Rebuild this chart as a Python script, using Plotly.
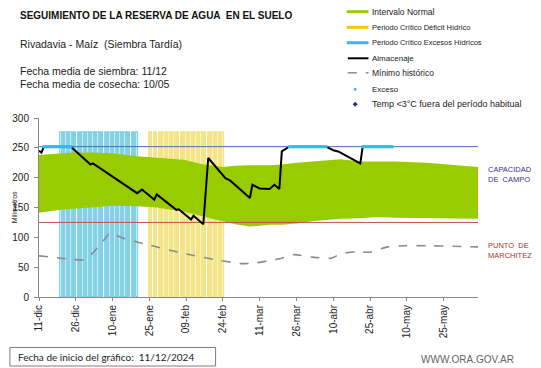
import plotly.graph_objects as go

# ---------------- data ----------------
tick_days = [0, 15, 30, 45, 60, 75, 90, 105, 120, 135, 150, 165]
tick_labels = ["11-dic", "26-dic", "10-ene", "25-ene", "09-feb", "24-feb",
               "11-mar", "26-mar", "10-abr", "25-abr", "10-may", "25-may"]
x_end = 179

band_days = [0, 8, 14, 22, 30, 40, 48, 59, 67, 75, 80, 86, 94, 99, 105, 111, 123, 131, 138, 145, 158, 179]
band_upper = [238, 240, 242, 242, 241, 236, 233, 230, 222, 218, 220, 221, 221, 222, 225, 227, 231, 227, 227, 227, 225, 218]
band_lower = [141, 146, 148, 151, 153, 152, 150, 143, 135, 127, 122, 118, 121, 121, 123, 127, 131, 132, 134, 133, 132, 131]

exceso_period_days = [9, 10, 11, 12, 13, 14, 15, 16, 17, 18, 19, 20, 21, 22, 23, 24, 25, 26, 27, 28,
                      29, 30, 31, 32, 33, 34, 35, 36, 37, 38, 39, 40]
deficit_period_days = [45, 46, 47, 48, 49, 50, 51, 52, 53, 54, 55, 56, 57, 58, 59, 60, 61, 62, 63, 64,
                       65, 66, 67, 68, 69, 70, 71, 72, 73, 74, 75]
period_height = 277

capacidad_campo = 252
punto_marchitez = 125

alm_days = [0, 1, 2, 13, 21, 22, 40, 42, 47, 48, 56, 57, 62, 63, 67, 69, 76, 78, 86, 87, 90, 94, 96, 98,
            99, 101, 102, 117, 118, 120, 122, 131, 132, 144]
alm_vals = [245, 242, 252, 252, 222, 224, 174, 180, 163, 172, 146, 147, 130, 136, 122, 233, 199, 195, 166, 188,
            182, 181, 188, 181, 244, 250, 252, 252, 250, 246, 244, 224, 252, 252]

min_days = [0, 9, 14, 18, 22, 26, 29, 34, 44, 58, 74, 83, 88, 94, 98, 104, 111, 119, 123, 129, 135, 142, 149, 158, 169, 179]
min_vals = [69, 65, 63, 62, 74, 93, 107, 99, 88, 74, 61, 56, 57, 61, 64, 71, 67, 65, 72, 76, 75, 84, 86, 86, 85, 84]

exceso_days = [2, 3, 4, 5, 6, 7, 8, 9, 10, 11, 12, 13,
               102, 103, 104, 105, 106, 107, 108, 109, 110, 111, 112, 113, 114, 115, 116, 117,
               132, 133, 134, 135, 136, 137, 138, 139, 140, 141, 142, 143, 144]
exceso_vals = [252] * len(exceso_days)

# ---------------- colours ----------------
GREEN = "#99cc00"
YELLOW = "#f5c800"
CYAN = "#33bbee"
FONT = "Liberation Sans, Arial, sans-serif"

W, H = 541, 368
L, R, T, B = 33, 478, 118, 297


def xp(px):
    return (px - L) / (R - L)


def yp(py):
    return (B - py) / (B - T)


fig = go.Figure()

# normal interval band
fig.add_trace(go.Scatter(x=band_days, y=band_lower, mode="lines", line=dict(width=0, color=GREEN),
                         hoverinfo="skip", showlegend=False))
fig.add_trace(go.Scatter(x=band_days, y=band_upper, mode="lines", line=dict(width=0, color=GREEN),
                         fill="tonexty", fillcolor=GREEN, showlegend=False))

# critical periods
fig.add_trace(go.Bar(x=exceso_period_days, y=[period_height] * len(exceso_period_days), width=0.55,
                     marker=dict(color="rgba(130,215,235,0.35)",
                                 line=dict(color="rgba(55,180,215,0.9)", width=0.7)),
                     showlegend=False))
fig.add_trace(go.Bar(x=deficit_period_days, y=[period_height] * len(deficit_period_days), width=0.55,
                     marker=dict(color="rgba(248,232,110,0.35)",
                                 line=dict(color="rgba(235,212,70,0.9)", width=0.7)),
                     showlegend=False))

# reference lines
fig.add_trace(go.Scatter(x=[0, x_end], y=[capacidad_campo, capacidad_campo], mode="lines",
                         line=dict(color="#4a6cc0", width=1), showlegend=False))
fig.add_trace(go.Scatter(x=[0, x_end], y=[punto_marchitez, punto_marchitez], mode="lines",
                         line=dict(color="#c0504d", width=1), showlegend=False))

# historical minimum
fig.add_trace(go.Scatter(x=min_days, y=min_vals, mode="lines",
                         line=dict(color="#8c8c8c", width=1.6, dash="dash", shape="spline", smoothing=0.6),
                         showlegend=False))

# storage
fig.add_trace(go.Scatter(x=alm_days, y=alm_vals, mode="lines",
                         line=dict(color="black", width=2), showlegend=False))

# exceso markers
fig.add_trace(go.Scatter(x=exceso_days, y=exceso_vals, mode="markers",
                         marker=dict(color=CYAN, size=3.5, symbol="circle", line=dict(width=0)),
                         showlegend=False))

shapes = []
annotations = []

# ---------- manual legend ----------
lx0, lx1, ltx = 345, 367, 369
rows = [
    (11.7, "bar", GREEN, "Intervalo Normal", 8.5),
    (27.3, "bar", YELLOW, "Periodo Crítico Déficit Hídrico", 7.5),
    (42.7, "bar", CYAN, "Periodo Crítico Excesos Hídricos", 7.5),
    (58.3, "line", "black", "Almacenaje", 8),
    (72.7, "dash", "#8c8c8c", "Mínimo histórico", 8.5),
    (89.3, "dot", CYAN, "Exceso", 8),
    (104.3, "diamond", "#1f2f8f", "Temp <3°C fuera del período habitual", 9),
]
for ry, kind, col, label, fs in rows:
    if kind == "bar":
        shapes.append(dict(type="line", xref="paper", yref="paper", x0=xp(lx0), x1=xp(lx1),
                           y0=yp(ry), y1=yp(ry), line=dict(color=col, width=3)))
    elif kind == "line":
        shapes.append(dict(type="line", xref="paper", yref="paper", x0=xp(lx0 + 1), x1=xp(lx1),
                           y0=yp(ry), y1=yp(ry), line=dict(color=col, width=2)))
    elif kind == "dash":
        shapes.append(dict(type="line", xref="paper", yref="paper", x0=xp(lx0 + 1), x1=xp(lx1),
                           y0=yp(ry), y1=yp(ry), line=dict(color=col, width=1.5, dash="dash")))
    elif kind == "dot":
        shapes.append(dict(type="circle", xref="paper", yref="paper", x0=xp(352), x1=xp(355),
                           y0=yp(ry + 1.5), y1=yp(ry - 1.5), line=dict(width=0), fillcolor=col))
    elif kind == "diamond":
        cx, cy = 353.5, ry
        path = "M {},{} L {},{} L {},{} L {},{} Z".format(
            xp(cx), yp(cy - 2.5), xp(cx + 2.5), yp(cy), xp(cx), yp(cy + 2.5), xp(cx - 2.5), yp(cy))
        shapes.append(dict(type="path", xref="paper", yref="paper", path=path,
                           line=dict(width=0), fillcolor=col))
    annotations.append(dict(x=xp(ltx), y=yp(ry), xref="paper", yref="paper", text=label,
                            showarrow=False, xanchor="left", yanchor="middle",
                            font=dict(family=FONT, size=fs, color="#222")))

# ---------- titles ----------
annotations.append(dict(x=xp(12), y=yp(15), xref="paper", yref="paper",
                        text="<b>SEGUIMIENTO DE LA RESERVA DE AGUA  EN EL SUELO</b>",
                        showarrow=False, xanchor="left", yanchor="middle",
                        font=dict(family=FONT, size=10, color="#111")))
annotations.append(dict(x=xp(12), y=yp(44.5), xref="paper", yref="paper",
                        text="Rivadavia - Maíz  (Siembra Tardía)",
                        showarrow=False, xanchor="left", yanchor="middle",
                        font=dict(family=FONT, size=10.5, color="#222")))
annotations.append(dict(x=xp(12), y=yp(71.5), xref="paper", yref="paper",
                        text="Fecha media de siembra: 11/12",
                        showarrow=False, xanchor="left", yanchor="middle",
                        font=dict(family=FONT, size=10.5, color="#222")))
annotations.append(dict(x=xp(12), y=yp(83.5), xref="paper", yref="paper",
                        text="Fecha media de cosecha: 10/05",
                        showarrow=False, xanchor="left", yanchor="middle",
                        font=dict(family=FONT, size=10.5, color="#222")))

# right-side labels
annotations.append(dict(x=xp(486), y=yp(174.5), xref="paper", yref="paper",
                        text="CAPACIDAD<br>DE  CAMPO", align="left",
                        showarrow=False, xanchor="left", yanchor="middle",
                        font=dict(family=FONT, size=7.5, color="#33339a")))
annotations.append(dict(x=xp(486), y=yp(250.5), xref="paper", yref="paper",
                        text="PUNTO  DE<br>MARCHITEZ", align="left",
                        showarrow=False, xanchor="left", yanchor="middle",
                        font=dict(family=FONT, size=7.5, color="#b03030")))

# y-axis title
annotations.append(dict(x=xp(8), y=yp(207), xref="paper", yref="paper", text="Milimetros",
                        textangle=-90, showarrow=False, xanchor="center", yanchor="middle",
                        font=dict(family=FONT, size=7, color="#222")))

# footer
shapes.append(dict(type="rect", xref="paper", yref="paper", x0=xp(3.5), x1=xp(212),
                   y0=yp(366), y1=yp(347.5), line=dict(color="#8a7a7a", width=1), fillcolor="white"))
annotations.append(dict(x=xp(10), y=yp(357), xref="paper", yref="paper",
                        text="Fecha de inicio del gráfico:  11/12/2024",
                        showarrow=False, xanchor="left", yanchor="middle",
                        font=dict(family="Lato, sans-serif", size=10, color="#222")))
annotations.append(dict(x=xp(517), y=yp(359), xref="paper", yref="paper",
                        text="WWW.ORA.GOV.AR",
                        showarrow=False, xanchor="right", yanchor="middle",
                        font=dict(family=FONT, size=10, color="#666")))

fig.update_layout(
    width=W, height=H,
    margin=dict(l=L, r=W - R, t=T, b=H - B, pad=0),
    paper_bgcolor="white", plot_bgcolor="white",
    barmode="overlay", bargap=0,
    showlegend=False,
    shapes=shapes, annotations=annotations,
    font=dict(family=FONT, color="#222"),
)
fig.update_xaxes(range=[0, x_end], tickmode="array", tickvals=tick_days, ticktext=tick_labels,
                 tickangle=-90, ticks="outside", ticklen=3, tickcolor="#888",
                 showline=True, linecolor="#888", linewidth=1, showgrid=False, zeroline=False,
                 tickfont=dict(family=FONT, size=10, color="#222"))
fig.update_yaxes(range=[0, 300], tickmode="array", tickvals=[0, 50, 100, 150, 200, 250, 300],
                 ticks="outside", ticklen=4, tickcolor="#888", ticklabelstandoff=3,
                 showline=True, linecolor="#888", linewidth=1, showgrid=False, zeroline=False,
                 tickfont=dict(family=FONT, size=10, color="#222"))

fig.write_html("out.html", config={"displayModeBar": False},
               post_script="document.body.style.margin='0';document.body.style.overflow='hidden';")
